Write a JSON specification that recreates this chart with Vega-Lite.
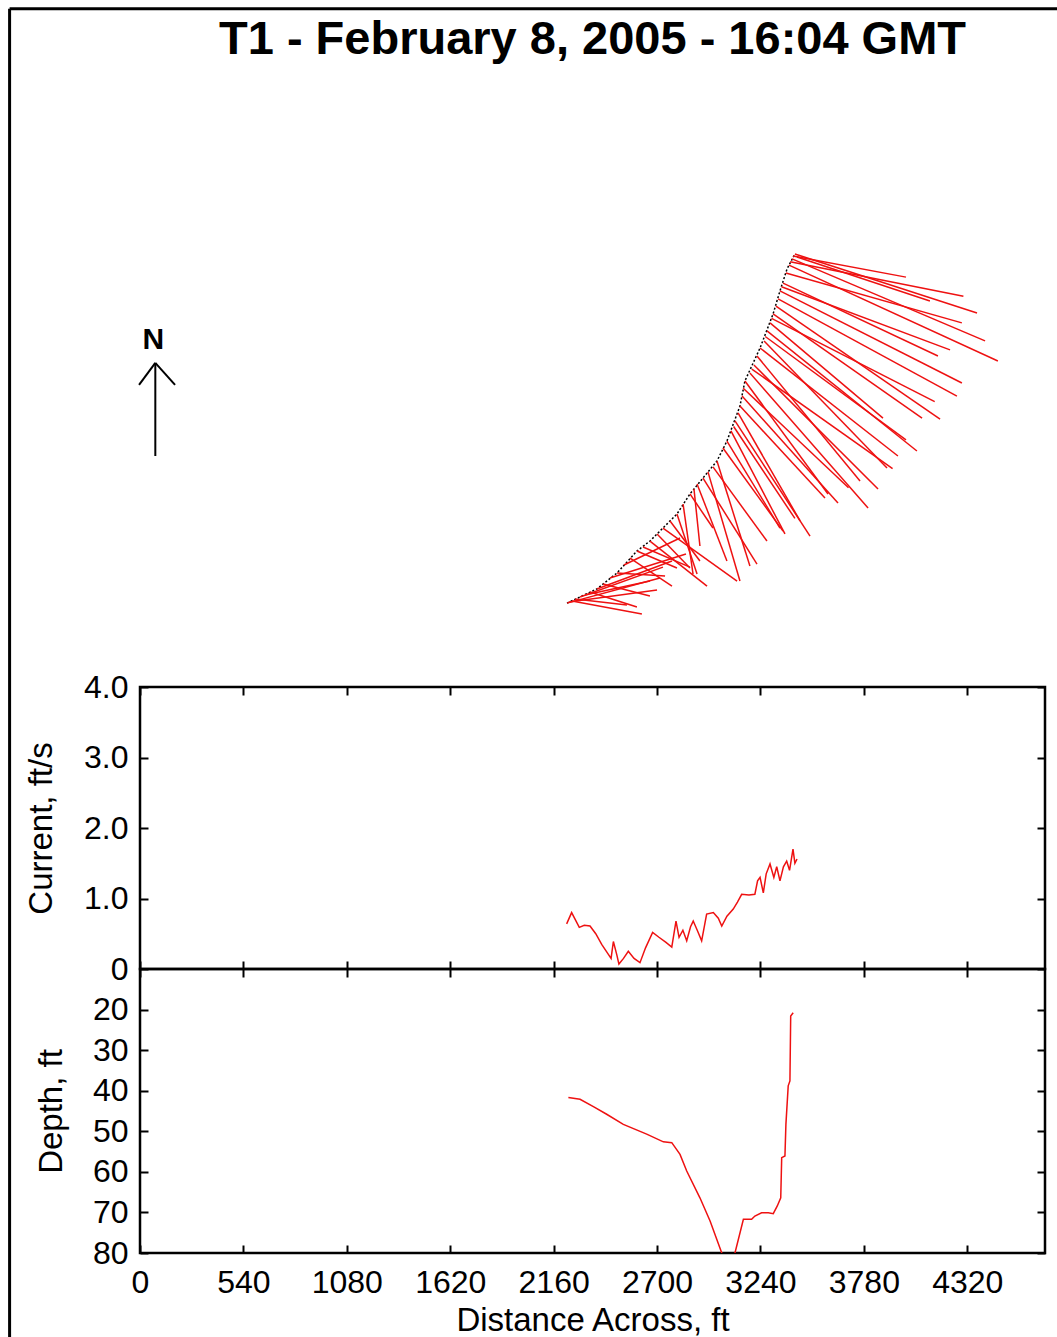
{
  "$schema": "https://vega.github.io/schema/vega-lite/v6.json",
  "autosize": {"type": "pad"},
  "padding": {"left": 6, "top": 6, "right": 0, "bottom": 0},
  "background": "white",
  "bounds": "flush",
  "spacing": 0,
  "datasets": {
    "border": [
      {"d": -681, "v": 13.62, "d2": -681, "v2": -5.6},
      {"d": -681, "v": 13.62, "d2": 4900, "v2": 13.62}
    ],
    "track": [
      {"i": 1, "e": 2230, "n": 198}, {"i": 2, "e": 2386, "n": 272}, {"i": 3, "e": 2491, "n": 355},
      {"i": 4, "e": 2595, "n": 470}, {"i": 5, "e": 2663, "n": 522}, {"i": 6, "e": 2731, "n": 590},
      {"i": 7, "e": 2804, "n": 663}, {"i": 8, "e": 2872, "n": 768}, {"i": 9, "e": 2940, "n": 851},
      {"i": 10, "e": 3013, "n": 940}, {"i": 11, "e": 3065, "n": 1044}, {"i": 12, "e": 3133, "n": 1227},
      {"i": 13, "e": 3159, "n": 1358}, {"i": 14, "e": 3238, "n": 1530}, {"i": 15, "e": 3306, "n": 1708},
      {"i": 16, "e": 3342, "n": 1828}, {"i": 17, "e": 3379, "n": 1943}, {"i": 18, "e": 3420, "n": 2021}
    ],
    "segments": [
      {"e": 2230, "n": 198, "e2": 2715, "n2": 329},
      {"e": 2240, "n": 204, "e2": 2700, "n2": 266},
      {"e": 2256, "n": 209, "e2": 2621, "n2": 141},
      {"e": 2272, "n": 219, "e2": 2543, "n2": 188},
      {"e": 2298, "n": 230, "e2": 2731, "n2": 386},
      {"e": 2324, "n": 240, "e2": 2663, "n2": 313},
      {"e": 2350, "n": 256, "e2": 2595, "n2": 178},
      {"e": 2386, "n": 272, "e2": 2778, "n2": 418},
      {"e": 2418, "n": 298, "e2": 2663, "n2": 235},
      {"e": 2454, "n": 329, "e2": 2851, "n2": 454},
      {"e": 2491, "n": 355, "e2": 2742, "n2": 339},
      {"e": 2527, "n": 397, "e2": 2820, "n2": 538},
      {"e": 2559, "n": 433, "e2": 2778, "n2": 287},
      {"e": 2595, "n": 470, "e2": 2804, "n2": 381},
      {"e": 2627, "n": 491, "e2": 2872, "n2": 386},
      {"e": 2663, "n": 522, "e2": 2961, "n2": 287},
      {"e": 2700, "n": 559, "e2": 2872, "n2": 381},
      {"e": 2731, "n": 590, "e2": 3118, "n2": 313},
      {"e": 2768, "n": 627, "e2": 2924, "n2": 418},
      {"e": 2804, "n": 663, "e2": 2909, "n2": 350},
      {"e": 2836, "n": 715, "e2": 2888, "n2": 350},
      {"e": 2872, "n": 768, "e2": 2992, "n2": 590},
      {"e": 2893, "n": 794, "e2": 2924, "n2": 496},
      {"e": 2909, "n": 820, "e2": 3065, "n2": 418},
      {"e": 2940, "n": 851, "e2": 3222, "n2": 402},
      {"e": 2966, "n": 883, "e2": 3133, "n2": 313},
      {"e": 2992, "n": 909, "e2": 3274, "n2": 522},
      {"e": 3013, "n": 940, "e2": 3185, "n2": 392},
      {"e": 3044, "n": 1008, "e2": 3358, "n2": 574},
      {"e": 3065, "n": 1044, "e2": 3342, "n2": 590},
      {"e": 3086, "n": 1097, "e2": 3368, "n2": 559},
      {"e": 3100, "n": 1120, "e2": 3420, "n2": 640},
      {"e": 3107, "n": 1149, "e2": 3499, "n2": 548},
      {"e": 3123, "n": 1191, "e2": 3447, "n2": 627},
      {"e": 3133, "n": 1227, "e2": 3577, "n2": 747},
      {"e": 3144, "n": 1279, "e2": 3645, "n2": 721},
      {"e": 3150, "n": 1320, "e2": 3700, "n2": 800},
      {"e": 3159, "n": 1358, "e2": 3593, "n2": 768},
      {"e": 3185, "n": 1399, "e2": 3802, "n2": 695},
      {"e": 3195, "n": 1420, "e2": 3930, "n2": 900},
      {"e": 3206, "n": 1441, "e2": 3854, "n2": 794},
      {"e": 3222, "n": 1488, "e2": 3760, "n2": 836},
      {"e": 3238, "n": 1530, "e2": 3958, "n2": 966},
      {"e": 3259, "n": 1567, "e2": 3901, "n2": 903},
      {"e": 3265, "n": 1590, "e2": 4000, "n2": 1050},
      {"e": 3274, "n": 1619, "e2": 4057, "n2": 992},
      {"e": 3290, "n": 1661, "e2": 3880, "n2": 1164},
      {"e": 3298, "n": 1685, "e2": 4150, "n2": 1250},
      {"e": 3306, "n": 1708, "e2": 4084, "n2": 1164},
      {"e": 3321, "n": 1749, "e2": 4178, "n2": 1159},
      {"e": 3332, "n": 1786, "e2": 4266, "n2": 1279},
      {"e": 3342, "n": 1828, "e2": 4292, "n2": 1347},
      {"e": 3350, "n": 1850, "e2": 4230, "n2": 1520},
      {"e": 3358, "n": 1869, "e2": 4167, "n2": 1488},
      {"e": 3373, "n": 1922, "e2": 4292, "n2": 1661},
      {"e": 3389, "n": 1963, "e2": 4480, "n2": 1462},
      {"e": 3395, "n": 1980, "e2": 4300, "n2": 1800},
      {"e": 3405, "n": 1995, "e2": 4413, "n2": 1567},
      {"e": 3410, "n": 2010, "e2": 4000, "n2": 1900},
      {"e": 3420, "n": 2021, "e2": 4371, "n2": 1713},
      {"e": 3431, "n": 2005, "e2": 4125, "n2": 1775}
    ],
    "arrow": [
      {"e": 80, "n": 966, "e2": 80, "n2": 1452},
      {"e": 80, "n": 1452, "e2": -5, "n2": 1337},
      {"e": 80, "n": 1452, "e2": 183, "n2": 1337}
    ],
    "north": [{"e": 69, "n": 1525, "label": "N"}],
    "current": [
      {"d": 2228, "v": 0.64}, {"d": 2254, "v": 0.80}, {"d": 2294, "v": 0.59}, {"d": 2320, "v": 0.62},
      {"d": 2350, "v": 0.61}, {"d": 2380, "v": 0.50}, {"d": 2411, "v": 0.35}, {"d": 2445, "v": 0.21},
      {"d": 2460, "v": 0.15}, {"d": 2472, "v": 0.39}, {"d": 2490, "v": 0.20}, {"d": 2501, "v": 0.07},
      {"d": 2525, "v": 0.15}, {"d": 2550, "v": 0.25}, {"d": 2580, "v": 0.15}, {"d": 2611, "v": 0.09},
      {"d": 2640, "v": 0.30}, {"d": 2677, "v": 0.52}, {"d": 2710, "v": 0.45}, {"d": 2745, "v": 0.38},
      {"d": 2777, "v": 0.31}, {"d": 2799, "v": 0.68}, {"d": 2815, "v": 0.45}, {"d": 2835, "v": 0.55},
      {"d": 2855, "v": 0.40}, {"d": 2875, "v": 0.60}, {"d": 2889, "v": 0.68}, {"d": 2910, "v": 0.55},
      {"d": 2933, "v": 0.40}, {"d": 2959, "v": 0.78}, {"d": 2994, "v": 0.80}, {"d": 3020, "v": 0.72},
      {"d": 3038, "v": 0.61}, {"d": 3065, "v": 0.75}, {"d": 3098, "v": 0.85}, {"d": 3120, "v": 0.95},
      {"d": 3142, "v": 1.06}, {"d": 3180, "v": 1.05}, {"d": 3211, "v": 1.06}, {"d": 3225, "v": 1.25},
      {"d": 3238, "v": 1.30}, {"d": 3255, "v": 1.08}, {"d": 3270, "v": 1.35}, {"d": 3290, "v": 1.49},
      {"d": 3310, "v": 1.30}, {"d": 3325, "v": 1.45}, {"d": 3342, "v": 1.25}, {"d": 3360, "v": 1.45},
      {"d": 3377, "v": 1.53}, {"d": 3392, "v": 1.40}, {"d": 3410, "v": 1.70}, {"d": 3420, "v": 1.50},
      {"d": 3431, "v": 1.56}
    ],
    "depth": [
      {"d": 2237, "z": 41.7}, {"d": 2298, "z": 42.1}, {"d": 2370, "z": 44.0}, {"d": 2437, "z": 45.8},
      {"d": 2524, "z": 48.3}, {"d": 2646, "z": 50.7}, {"d": 2733, "z": 52.6}, {"d": 2777, "z": 52.8},
      {"d": 2820, "z": 55.7}, {"d": 2855, "z": 59.8}, {"d": 2924, "z": 66.4}, {"d": 2977, "z": 72.1},
      {"d": 3038, "z": 80.0}, {"d": 3070, "z": 84.0}, {"d": 3095, "z": 84.0}, {"d": 3107, "z": 80.0},
      {"d": 3151, "z": 71.7}, {"d": 3194, "z": 71.7}, {"d": 3211, "z": 70.9}, {"d": 3246, "z": 70.1},
      {"d": 3281, "z": 70.1}, {"d": 3307, "z": 70.3}, {"d": 3328, "z": 68.4}, {"d": 3346, "z": 66.4},
      {"d": 3351, "z": 56.5}, {"d": 3368, "z": 56.1}, {"d": 3373, "z": 48.3}, {"d": 3385, "z": 38.8},
      {"d": 3394, "z": 37.6}, {"d": 3398, "z": 21.6}, {"d": 3411, "z": 20.8}
    ]
  },
  "vconcat": [
    {
      "width": 905,
      "height": 606,
      "view": {"stroke": null},
      "title": {
        "text": "T1 - February 8, 2005 - 16:04 GMT",
        "font": "Liberation Sans",
        "fontSize": 47,
        "fontWeight": "bold",
        "color": "#000",
        "anchor": "middle",
        "frame": "group",
        "baseline": "alphabetic",
        "offset": -20
      },
      "layer": [
        {
          "data": {"name": "track"},
          "mark": {"type": "line", "color": "#000", "strokeWidth": 1.5, "strokeDash": [2, 2]},
          "encoding": {
            "x": {"field": "e", "type": "quantitative", "scale": {"domain": [0, 4726], "nice": false, "zero": false}, "axis": null},
            "y": {"field": "n", "type": "quantitative", "scale": {"domain": [-240, 2924], "nice": false, "zero": false}, "axis": null},
            "order": {"field": "i", "type": "quantitative"}
          }
        },
        {
          "data": {"name": "segments"},
          "mark": {"type": "rule", "color": "#ee1111", "strokeWidth": 1.5},
          "encoding": {
            "x": {"field": "e", "type": "quantitative"},
            "y": {"field": "n", "type": "quantitative"},
            "x2": {"field": "e2"},
            "y2": {"field": "n2"}
          }
        },
        {
          "data": {"name": "arrow"},
          "mark": {"type": "rule", "color": "#000", "strokeWidth": 2, "clip": false},
          "encoding": {
            "x": {"field": "e", "type": "quantitative"},
            "y": {"field": "n", "type": "quantitative"},
            "x2": {"field": "e2"},
            "y2": {"field": "n2"}
          }
        },
        {
          "data": {"name": "north"},
          "mark": {"type": "text", "font": "Liberation Sans", "fontWeight": "bold", "fontSize": 30, "align": "center", "baseline": "alphabetic", "color": "#000"},
          "encoding": {
            "x": {"field": "e", "type": "quantitative"},
            "y": {"field": "n", "type": "quantitative"},
            "text": {"field": "label"}
          }
        }
      ]
    },
    {
      "width": 905,
      "height": 282,
      "resolve": {"axis": {"x": "independent", "y": "independent"}},
      "layer": [
        {
          "data": {"name": "border"},
          "mark": {"type": "rule", "color": "#000", "strokeWidth": 3, "clip": false},
          "encoding": {
            "x": {"field": "d", "type": "quantitative", "scale": {"domain": [0, 4726], "nice": false, "zero": false}, "axis": null},
            "y": {"field": "v", "type": "quantitative", "scale": {"domain": [0, 4], "nice": false, "zero": false}, "axis": null},
            "x2": {"field": "d2"},
            "y2": {"field": "v2"}
          }
        },
        {
          "data": {"name": "current"},
          "mark": {"type": "line", "color": "#ee1111", "strokeWidth": 1.5, "clip": true},
          "encoding": {
            "x": {
              "field": "d", "type": "quantitative",
              "axis": {"orient": "bottom", "values": [0, 540, 1080, 1620, 2160, 2700, 3240, 3780, 4320], "labels": false, "tickSize": -8, "title": null}
            },
            "y": {
              "field": "v", "type": "quantitative",
              "axis": {"orient": "left", "values": [0, 1, 2, 3, 4], "tickSize": -8, "labelPadding": 20,
                "labelExpr": "datum.value == 0 ? '0' : format(datum.value, '.1f')",
                "title": "Current, ft/s", "titlePadding": 25}
            }
          }
        },
        {
          "data": {"name": "current"},
          "mark": {"type": "line", "opacity": 0},
          "encoding": {
            "x": {"field": "d", "type": "quantitative",
              "axis": {"orient": "top", "values": [0, 540, 1080, 1620, 2160, 2700, 3240, 3780, 4320], "labels": false, "tickSize": -8, "title": null}},
            "y": {"field": "v", "type": "quantitative",
              "axis": {"orient": "right", "values": [0, 1, 2, 3, 4], "labels": false, "tickSize": -8, "title": null}}
          }
        }
      ]
    },
    {
      "width": 905,
      "height": 284,
      "data": {"name": "depth"},
      "resolve": {"axis": {"x": "independent", "y": "independent"}},
      "layer": [
        {
          "mark": {"type": "line", "color": "#ee1111", "strokeWidth": 1.5, "clip": true},
          "encoding": {
            "x": {
              "field": "d", "type": "quantitative",
              "scale": {"domain": [0, 4726], "nice": false, "zero": false},
              "axis": {"orient": "bottom", "values": [0, 540, 1080, 1620, 2160, 2700, 3240, 3780, 4320], "format": "d", "tickSize": -8, "labelPadding": 22, "labelFlush": false,
                "title": "Distance Across, ft", "titlePadding": 6}
            },
            "y": {
              "field": "z", "type": "quantitative",
              "scale": {"domain": [10, 80], "nice": false, "zero": false, "reverse": true},
              "axis": {"orient": "left", "values": [20, 30, 40, 50, 60, 70, 80], "tickSize": -8, "labelPadding": 20,
                "title": "Depth, ft", "titlePadding": 24}
            }
          }
        },
        {
          "mark": {"type": "line", "opacity": 0},
          "encoding": {
            "x": {"field": "d", "type": "quantitative",
              "axis": {"orient": "top", "values": [0, 540, 1080, 1620, 2160, 2700, 3240, 3780, 4320], "labels": false, "tickSize": -8, "title": null}},
            "y": {"field": "z", "type": "quantitative",
              "axis": {"orient": "right", "values": [20, 30, 40, 50, 60, 70, 80], "labels": false, "tickSize": -8, "title": null}}
          }
        }
      ]
    }
  ],
  "config": {
    "view": {"stroke": "#000", "strokeWidth": 2.5},
    "axis": {
      "domain": false,
      "grid": false,
      "tickColor": "#000",
      "tickWidth": 2,
      "labelFont": "Liberation Sans",
      "labelFontSize": 32,
      "labelColor": "#000",
      "labelOverlap": false,
      "titleFont": "Liberation Sans",
      "titleFontSize": 33,
      "titleFontWeight": "normal",
      "titleColor": "#000"
    }
  }
}
